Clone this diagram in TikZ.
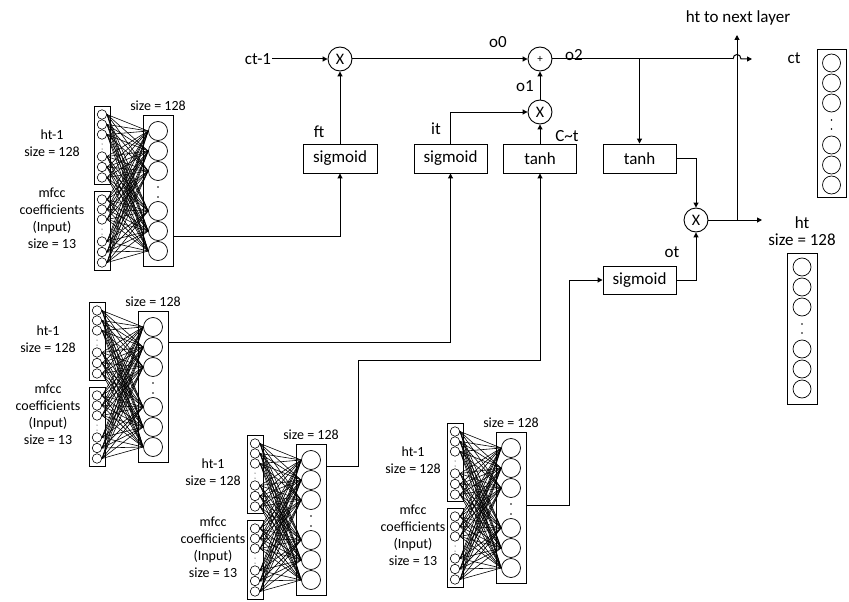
\documentclass[tikz,border=0pt]{standalone}
\usepackage{fontspec}
\setmainfont{Carlito}
\usetikzlibrary{arrows.meta}
\tikzset{
 sbox/.style={draw, line width=0.8pt, minimum width=16pt, inner sep=0pt},
 bbox/.style={draw, line width=0.8pt, minimum width=30pt, minimum height=151pt, inner sep=0pt},
 scirc/.style={draw, circle, line width=0.6pt, minimum size=9.5pt, inner sep=0pt},
 bcirc/.style={draw, circle, line width=0.7pt, minimum size=19pt, inner sep=0pt},
 ocirc/.style={draw, circle, line width=0.7pt, minimum size=18pt, inner sep=0pt},
 conn/.style={line width=0.6pt},
 smalltxt/.style={font=\fontsize{14}{17}\selectfont, align=center, inner sep=0pt},
 txt/.style={font=\fontsize{17}{20}\selectfont, align=center, inner sep=1pt},
 op/.style={draw, circle, line width=0.9pt, minimum size=24pt, inner sep=0pt, font=\fontsize{16}{16}\selectfont},
 gate/.style={draw, line width=0.9pt, minimum width=73pt, minimum height=29pt, inner sep=0pt, font=\fontsize{17}{17}\selectfont},
 wire/.style={line width=1pt},
 arr/.style={wire, -{Triangle[length=5pt,width=5pt]}},
}
% #1 name, #2 x, #3 y, #4 label x offset, #5 output y offset
\newcommand\nnblock[5]{%
\begin{scope}[shift={(#2,#3)}]
 \node[sbox, minimum height=78pt] (#1ta) at (8,39) {};
 \node[sbox, minimum height=79pt] (#1tb) at (8,124.5) {};
 \node[bbox] (#1bb) at (64,84.5) {};
 \foreach \i/\o in {1/8.5,2/18.5,3/28.5,4/50.5,5/61,6/71.5,7/93.5,8/103.5,9/113.5,10/135.5,11/146,12/156.5}
   {\node[scirc] (#1s\i) at (8,\o) {};}
 \foreach \j/\o in {1/25,2/45,3/65,4/105,5/125,6/145}
   {\node[bcirc] (#1b\j) at (64,\o) {};}
 \foreach \o in {38,43,123,128} {\fill (8,\o) circle (0.5);}
 \foreach \o in {81,91} {\fill (64,\o) circle (0.9);}
 \foreach \i in {1,...,12}{\foreach \j in {1,...,6}{\draw[conn] (#1s\i.east) -- (#1b\j.west);}}
 \node[smalltxt] (#1lb) at (64,0) {size = 128};
 \node[smalltxt] (#1lh) at (#4,37) {ht-1\\size = 128};
 \node[smalltxt] (#1lm) at (#4,112) {mfcc\\coefficients\\(Input)\\size = 13};
 \coordinate (#1out) at (79,#5);
\end{scope}}
\begin{document}
\begin{tikzpicture}[x=1pt,y=-1pt]
\useasboundingbox (0,0) rectangle (849,602);
% neural blocks
\nnblock{bA}{94}{106}{-42}{130}
\nnblock{bB}{89}{302}{-41}{40}
\nnblock{bC}{247}{435}{-34}{31}
\nnblock{bD}{447}{423}{-34}{82}
% operators and gates
\node[txt] (ctm1) at (258,59) {ct-1};
\node[op] (x1) at (340,59) {X};
\node[op, font=\fontsize{11}{11}\selectfont] (plus) at (540,59) {+};
\node[op] (x2) at (540,112) {X};
\node[op] (x3) at (696,220) {X};
\node[gate, minimum width=74pt] (sg1) at (340,158.5) {sigmoid};
\node[gate] (sg2) at (450.5,158.5) {sigmoid};
\node[gate] (th1) at (540,158.5) {tanh};
\node[gate] (th2) at (639.5,158.5) {tanh};
\node[gate, minimum height=28pt] (sg3) at (639.5,280) {sigmoid};
% labels
\node[txt] (lft) at (319,132) {ft};
\node[txt] (lit) at (436,129) {it};
\node[txt] (lct) at (567,136) {C\textasciitilde{}t};
\node[txt] (lo0) at (498,42) {o0};
\node[txt] (lo1) at (525,86) {o1};
\node[txt] (lo2) at (574,55) {o2};
\node[txt] (lot) at (672,252) {ot};
\node[txt] (lnext) at (738,18) {ht to next layer};
\node[txt] (lctr) at (794,58) {ct};
\node[txt, font=\fontsize{17}{17}\selectfont] (lht) at (802,231) {ht\\size = 128};
% coordinates
\coordinate (j1) at (639.5,59);
\coordinate (hopa) at (733,59);
\coordinate (hopb) at (741,59);
\coordinate (ctend) at (752,59);
\coordinate (j2) at (737,220);
\coordinate (htend) at (762,220);
\coordinate (htup) at (737,35);
\coordinate (c3) at (358,360);
\coordinate (c4) at (569,280);
% connectors
\draw[arr] (ctm1.east) -- (x1.west);
\draw[arr] (x1.east) -- (plus.west);
\draw[arr] (x2.north) -- (plus.south);
\draw[arr] (sg1.north) -- (x1.south);
\draw[arr] (sg2.north) |- (x2.west);
\draw[arr] (th1.north) -- (x2.south);
\draw[wire] (plus.east) -- (hopa);
\draw[arr] (hopa) .. controls (733,53) and (741,53) .. (hopb) -- (ctend);
\draw[arr] (j1) -- (th2.north);
\draw[arr] (th2.east) -| (x3.north);
\draw[arr] (sg3.east) -| (x3.south);
\draw[arr] (x3.east) -- (htend);
\draw[arr] (j2) -- (htup);
\draw[arr] (bAout) -| (sg1.south);
\draw[arr] (bBout) -| (sg2.south);
\draw[arr] (bCout) -| (c3) -| (th1.south);
\draw[arr] (bDout) -| (c4) -- (sg3.west);
% ct and ht output vectors
\node[draw, line width=0.8pt, minimum width=29pt, minimum height=148pt, inner sep=0pt] (ctbox) at (831.5,123) {};
\foreach \k/\o in {1/63,2/83,3/103,4/145,5/165,6/185} {\node[ocirc] (ctc\k) at (831.5,\o) {};}
\foreach \o in {120,129} {\fill (831.5,\o) circle (0.9);}
\node[draw, line width=0.8pt, minimum width=30pt, minimum height=151pt, inner sep=0pt] (htbox) at (802,328.5) {};
\foreach \k/\o in {1/267,2/287,3/307,4/349,5/369,6/389} {\node[ocirc] (htc\k) at (802,\o) {};}
\foreach \o in {324,333} {\fill (802,\o) circle (0.9);}
\end{tikzpicture}
\end{document}
